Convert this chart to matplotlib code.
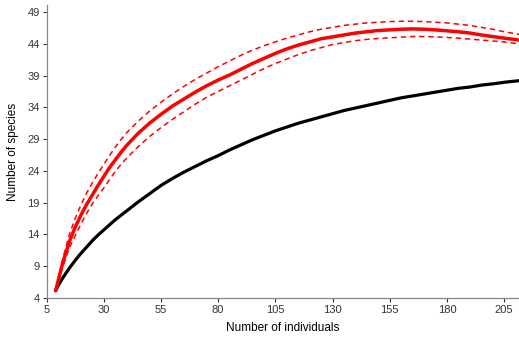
import matplotlib
matplotlib.use("Agg")
import matplotlib.pyplot as plt

plt.rcParams['font.family'] = ['Liberation Sans', 'DejaVu Sans']

individuals = [9, 10, 12, 15, 17.5, 20, 22.5, 25, 27.5, 30, 32.5, 35, 37.5, 40,
               45, 50, 55, 60, 65, 70, 75, 80, 85, 90, 95, 100, 105, 110, 115,
               120, 125, 130, 135, 140, 145, 150, 155, 160, 165, 170, 175, 180,
               185, 190, 195, 200, 205, 211.5]
red_mean = [5.15, 6.6, 9.4, 12.9, 15.1, 17.0, 18.7, 20.2, 21.7, 23.1, 24.5, 25.7,
            26.9, 28.0, 29.9, 31.5, 32.9, 34.2, 35.3, 36.4, 37.4, 38.3, 39.1, 40.0,
            40.9, 41.7, 42.5, 43.2, 43.8, 44.3, 44.8, 45.1, 45.4, 45.7, 45.9, 46.1,
            46.2, 46.3, 46.35, 46.3, 46.2, 46.05, 45.9, 45.7, 45.4, 45.15, 44.9, 44.6]
red_upper = [5.15, 6.8, 10.0, 14.0, 16.5, 18.6, 20.5, 22.1, 23.6, 25.0, 26.4, 27.7,
             28.9, 30.0, 31.8, 33.4, 34.8, 36.1, 37.3, 38.4, 39.4, 40.4, 41.3, 42.2,
             43.0, 43.7, 44.3, 44.9, 45.4, 45.9, 46.3, 46.6, 46.9, 47.1, 47.3, 47.4,
             47.5, 47.55, 47.55, 47.5, 47.4, 47.3, 47.1, 46.9, 46.6, 46.3, 45.9, 45.5]
red_lower = [5.15, 6.4, 8.8, 11.9, 13.8, 15.6, 17.3, 18.8, 20.1, 21.3, 22.6, 23.9,
             25.0, 26.0, 27.8, 29.4, 30.8, 32.1, 33.3, 34.5, 35.6, 36.5, 37.4, 38.3,
             39.2, 40.1, 40.9, 41.6, 42.3, 42.9, 43.4, 43.9, 44.2, 44.5, 44.7, 44.85,
             44.95, 45.05, 45.15, 45.15, 45.1, 45.0, 44.9, 44.75, 44.6, 44.45, 44.3, 44.0]
black_curve = [5.15, 5.9, 7.1, 8.7, 9.9, 11.0, 12.0, 13.0, 13.9, 14.7, 15.5, 16.3,
               17.0, 17.7, 19.1, 20.4, 21.7, 22.8, 23.8, 24.7, 25.6, 26.4, 27.3, 28.1,
               28.9, 29.6, 30.3, 30.9, 31.5, 32.0, 32.5, 33.0, 33.5, 33.9, 34.3, 34.7,
               35.1, 35.5, 35.8, 36.1, 36.4, 36.7, 37.0, 37.2, 37.5, 37.7, 37.95, 38.2]

xticks = [5, 30, 55, 80, 105, 130, 155, 180, 205]
yticks = [4, 9, 14, 19, 24, 29, 34, 39, 44, 49]

fig = plt.figure(figsize=(5.19, 3.39), dpi=100)
ax = fig.add_axes([0.0896, 0.121, 0.9104, 0.864])

ax.plot(individuals, black_curve, color='black', lw=2.3,
        solid_capstyle='round', solid_joinstyle='round')
ax.plot(individuals, red_upper, color='#ff0000', lw=1.1, ls=(0, (3.5, 2.5)))
ax.plot(individuals, red_lower, color='#ff0000', lw=1.1, ls=(0, (3.5, 2.5)))
ax.plot(individuals, red_mean, color='#ff0000', lw=2.5,
        solid_capstyle='round', solid_joinstyle='round')

ax.set_xlim(5, 211.5)
ax.set_ylim(4, 50.1)
ax.set_xticks(xticks)
ax.set_yticks(yticks)
ax.tick_params(labelsize=8, length=3, width=0.8, colors='#333333', pad=2)
for s in ['top', 'right']:
    ax.spines[s].set_visible(False)
for s in ['left', 'bottom']:
    ax.spines[s].set_color('#888888')
    ax.spines[s].set_linewidth(0.9)

ax.set_xlabel('Number of individuals', fontsize=8.5, labelpad=5)
ax.set_ylabel('Number of species', fontsize=8.5, labelpad=6)

fig.savefig('out.png', dpi=100)
